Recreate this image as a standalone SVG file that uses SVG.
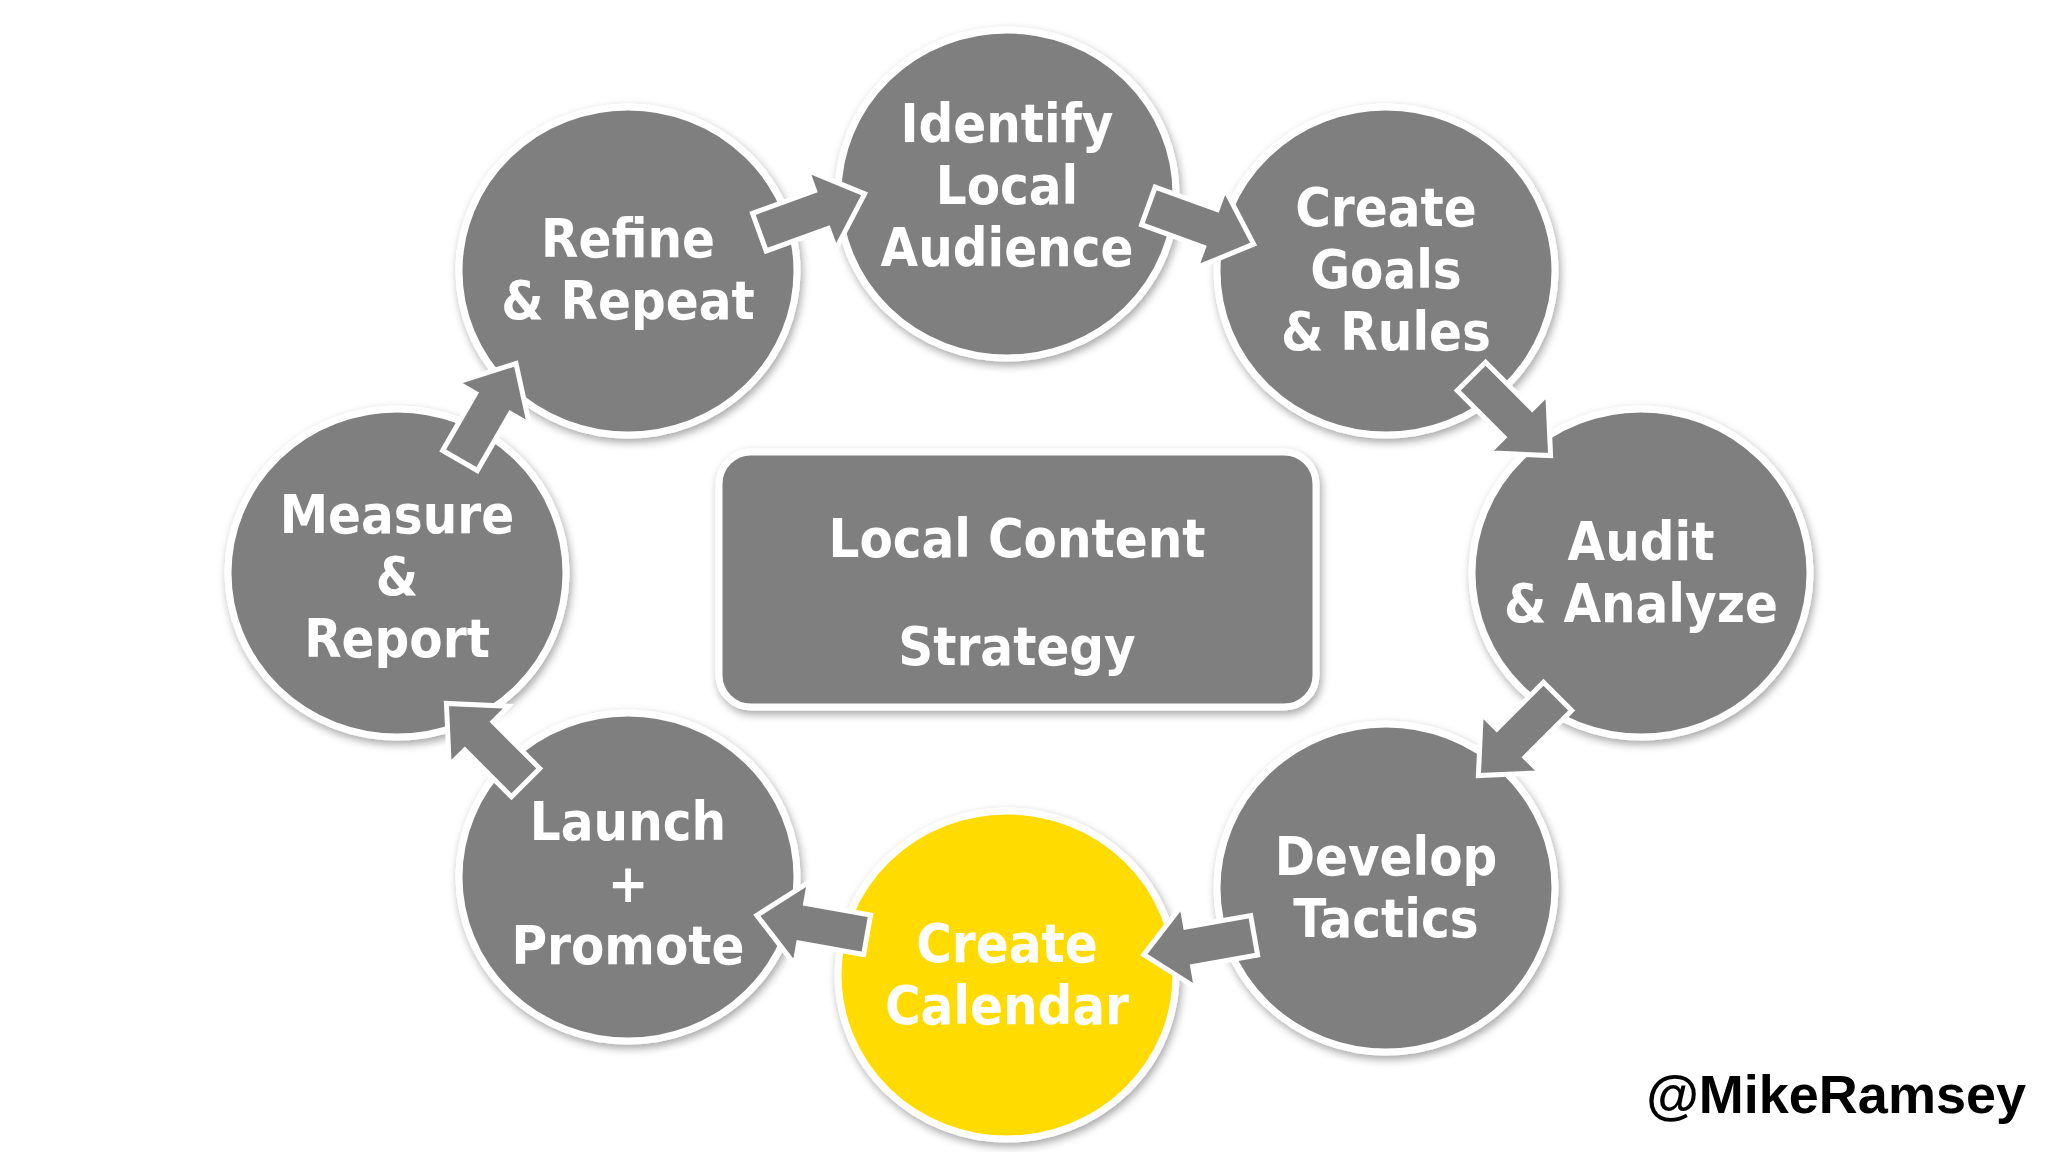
<svg xmlns="http://www.w3.org/2000/svg" width="2048" height="1152" viewBox="0 0 2048 1152">
<style>
.c{fill:#7f7f7f;stroke:#fff;stroke-width:7}
.y{fill:#ffdb00;stroke:#fff;stroke-width:7}
.t{font-family:"Liberation Sans Narrow","DejaVu Sans Condensed","Liberation Sans",sans-serif;font-weight:bold;fill:#fff;text-anchor:middle;font-size:54px}
.a{fill:#7f7f7f;stroke:#fff;stroke-width:5;stroke-linejoin:miter}
</style>
<defs>
<filter id="sh" x="-20%" y="-20%" width="140%" height="140%"><feDropShadow dx="2" dy="4" stdDeviation="4" flood-color="#000" flood-opacity="0.35"/></filter>
<polygon id="arr" points="-56,-20 10,-20 10,-42 56,0 10,42 10,20 -56,20"/>
</defs>
<rect width="2048" height="1152" fill="#fff"/>
<g id="center"><rect x="719" y="452" width="597" height="255" rx="32" class="c" filter="url(#sh)"/>
<text class="t" x="1017" y="557" font-size="98">Local Content</text><text class="t" x="1017" y="665" font-size="98">Strategy</text></g>
<g id="identify"><ellipse cx="1007" cy="194" rx="169" ry="164" class="c" filter="url(#sh)"/><text class="t" x="1007" y="142">Identify</text><text class="t" x="1007" y="204">Local</text><text class="t" x="1007" y="266">Audience</text></g>
<g id="goals"><ellipse cx="1386" cy="271" rx="169" ry="164" class="c" filter="url(#sh)"/><text class="t" x="1386" y="226">Create</text><text class="t" x="1386" y="288">Goals</text><text class="t" x="1386" y="350">&amp; Rules</text></g>
<g id="audit"><ellipse cx="1641" cy="573" rx="169" ry="164" class="c" filter="url(#sh)"/><text class="t" x="1641" y="560">Audit</text><text class="t" x="1641" y="622">&amp; Analyze</text></g>
<g id="develop"><ellipse cx="1386" cy="888" rx="169" ry="164" class="c" filter="url(#sh)"/><text class="t" x="1386" y="875">Develop</text><text class="t" x="1386" y="937">Tactics</text></g>
<g id="calendar"><ellipse cx="1007" cy="975" rx="169" ry="164" class="y" filter="url(#sh)"/><text class="t" x="1007" y="962">Create</text><text class="t" x="1007" y="1024">Calendar</text></g>
<g id="launch"><ellipse cx="628" cy="877" rx="169" ry="164" class="c" filter="url(#sh)"/><text class="t" x="628" y="840">Launch</text><text class="t" x="628" y="902">+</text><text class="t" x="628" y="964">Promote</text></g>
<g id="measure"><ellipse cx="397" cy="573" rx="169" ry="164" class="c" filter="url(#sh)"/><text class="t" x="397" y="533">Measure</text><text class="t" x="397" y="595">&amp;</text><text class="t" x="397" y="657">Report</text></g>
<g id="refine"><ellipse cx="628" cy="271" rx="169" ry="164" class="c" filter="url(#sh)"/><text class="t" x="628" y="257">Refine</text><text class="t" x="628" y="319">&amp; Repeat</text></g>
<g id="connectors">
<use href="#arr" class="a" transform="translate(812,213) rotate(-20)"/>
<use href="#arr" class="a" transform="translate(1201,225) rotate(20)"/>
<use href="#arr" class="a" transform="translate(1511,416) rotate(45)"/>
<use href="#arr" class="a" transform="translate(1518,736) rotate(135)"/>
<use href="#arr" class="a" transform="translate(1199,945) rotate(170)"/>
<use href="#arr" class="a" transform="translate(812,925) rotate(-170)"/>
<use href="#arr" class="a" transform="translate(486,743) rotate(-135)"/>
<use href="#arr" class="a" transform="translate(488,412) rotate(-60)"/>
</g>
<text x="2026" y="1113" font-family="Liberation Sans Narrow,Liberation Sans,sans-serif" font-weight="bold" font-size="54" text-anchor="end" fill="#000">@MikeRamsey</text>
</svg>
